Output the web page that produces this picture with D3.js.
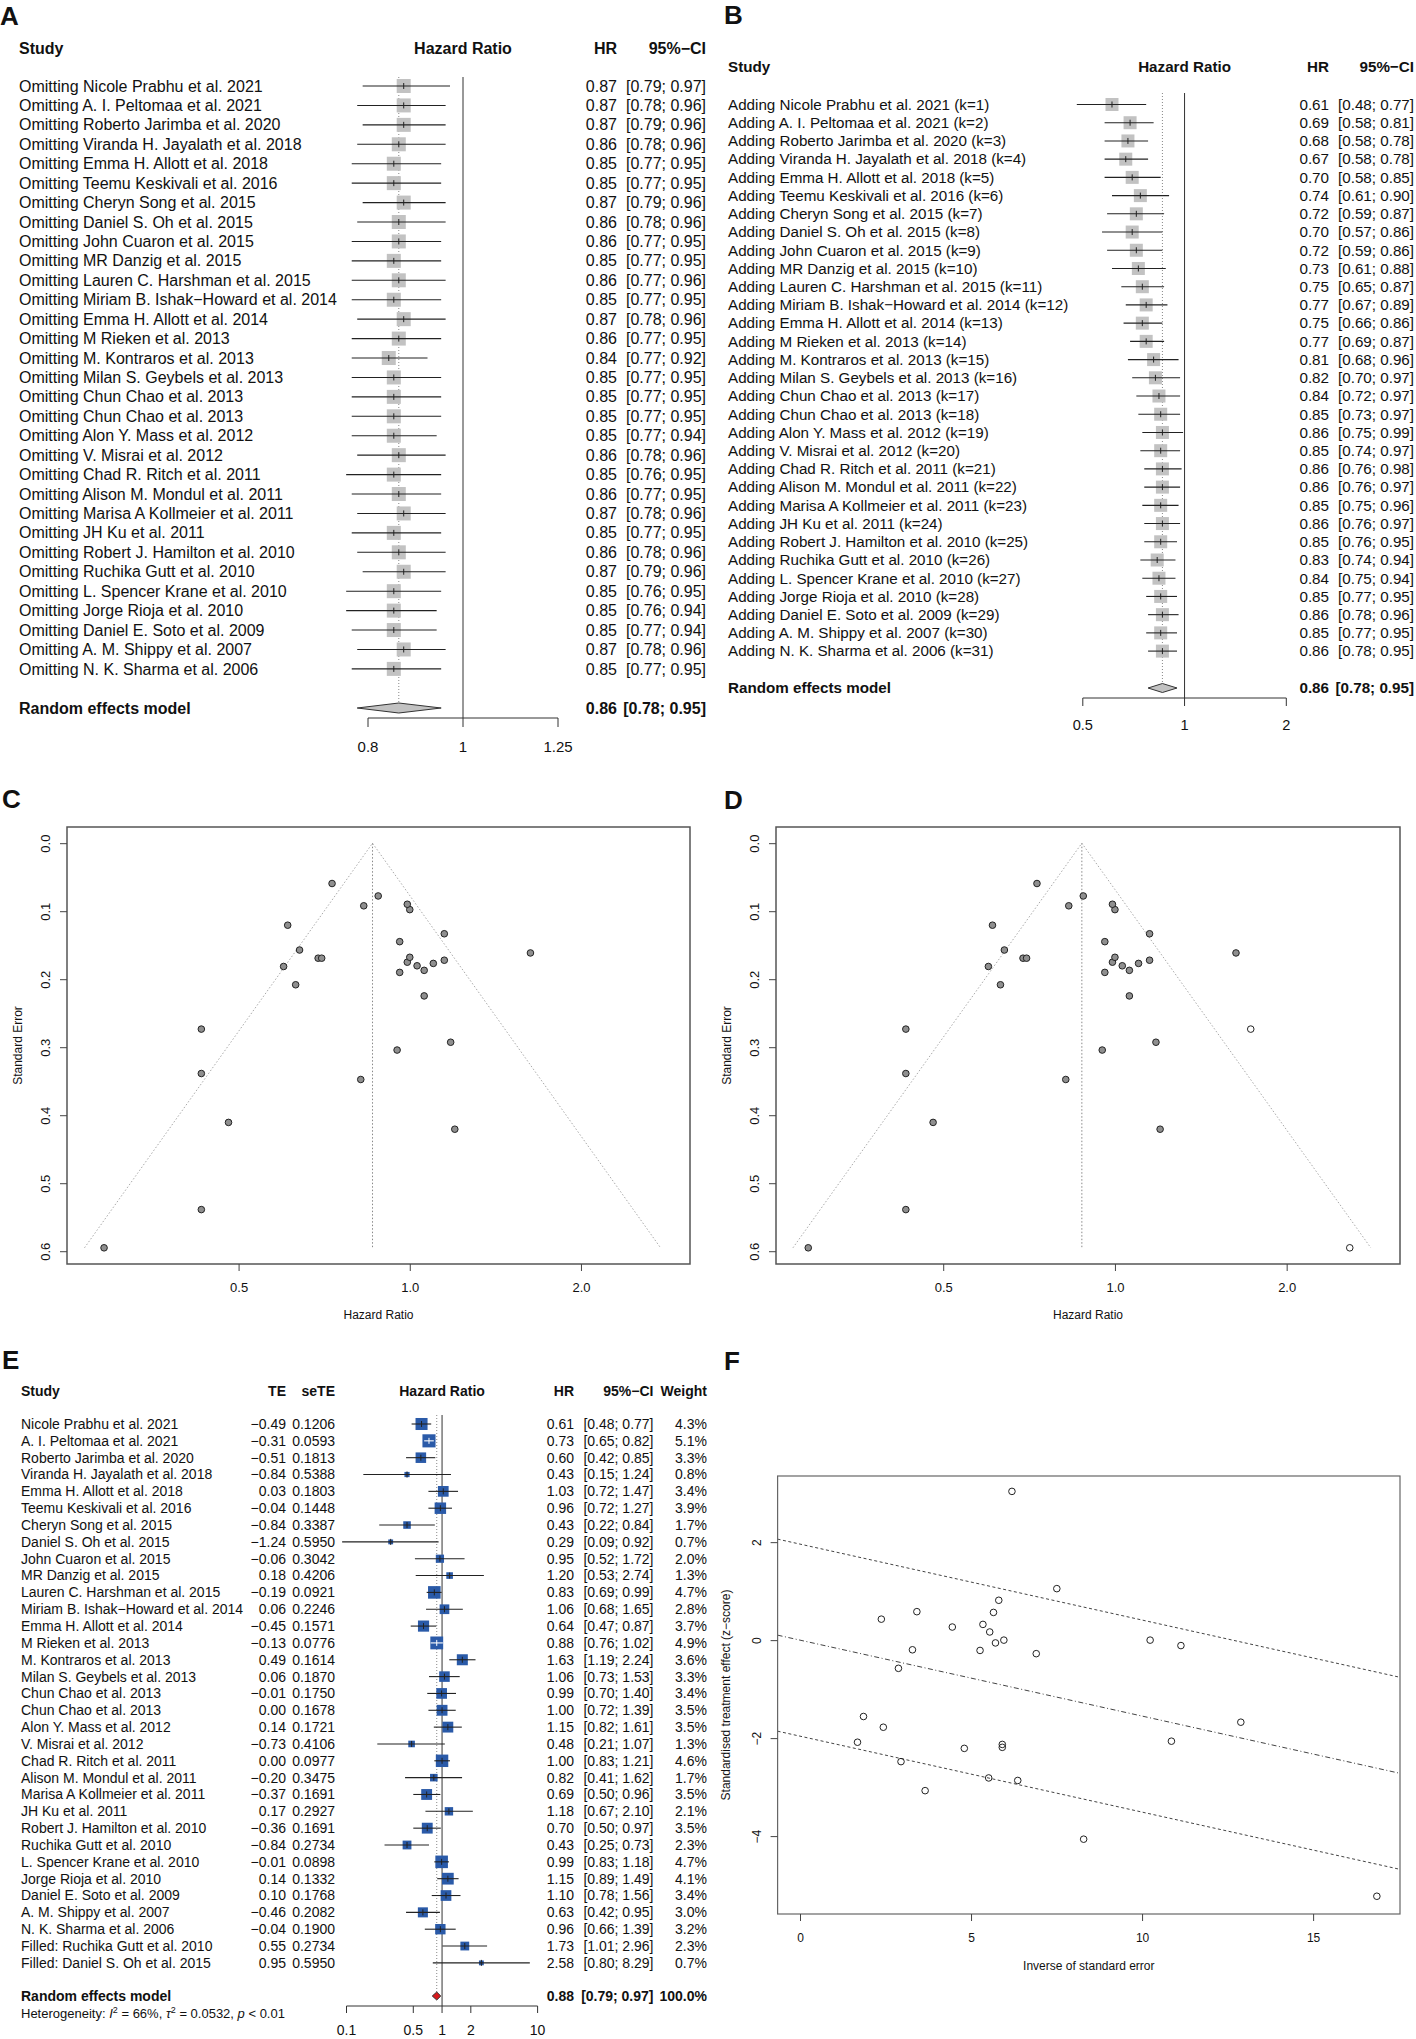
<!DOCTYPE html>
<html>
<head>
<meta charset="utf-8">
<title>Sensitivity, funnel and radial plots</title>
<script src="https://d3js.org/d3.v7.min.js"></script>
<style>
  body { margin: 0; background: #fff; }
  svg text { font-family: "Liberation Sans", Arial, Helvetica, sans-serif; fill: #111; }
</style>
</head>
<body>
<script>

// ---- data ----
var studies = [
  "Nicole Prabhu et al. 2021", "A. I. Peltomaa et al. 2021", "Roberto Jarimba et al. 2020",
  "Viranda H. Jayalath et al. 2018", "Emma H. Allott et al. 2018", "Teemu Keskivali et al. 2016",
  "Cheryn Song et al. 2015", "Daniel S. Oh et al. 2015", "John Cuaron et al. 2015",
  "MR Danzig et al. 2015", "Lauren C. Harshman et al. 2015", "Miriam B. Ishak\u2212Howard et al. 2014",
  "Emma H. Allott et al. 2014", "M Rieken et al. 2013", "M. Kontraros et al. 2013",
  "Milan S. Geybels et al. 2013", "Chun Chao et al. 2013", "Chun Chao et al. 2013",
  "Alon Y. Mass et al. 2012", "V. Misrai et al. 2012", "Chad R. Ritch et al. 2011",
  "Alison M. Mondul et al. 2011", "Marisa A Kollmeier et al. 2011", "JH Ku et al. 2011",
  "Robert J. Hamilton et al. 2010", "Ruchika Gutt et al. 2010", "L. Spencer Krane et al. 2010",
  "Jorge Rioja et al. 2010", "Daniel E. Soto et al. 2009", "A. M. Shippy et al. 2007",
  "N. K. Sharma et al. 2006"
];
var filledStudies = ["Filled: Ruchika Gutt et al. 2010", "Filled: Daniel S. Oh et al. 2015"];

// panel E table (31 studies + 2 filled)
var teValues = [-0.49, -0.31, -0.51, -0.84, 0.03, -0.04, -0.84, -1.24, -0.06, 0.18, -0.19, 0.06,
  -0.45, -0.13, 0.49, 0.06, -0.01, 0.00, 0.14, -0.73, 0.00, -0.20, -0.37, 0.17, -0.36, -0.84,
  -0.01, 0.14, 0.10, -0.46, -0.04, 0.55, 0.95];
var seValues = [0.1206, 0.0593, 0.1813, 0.5388, 0.1803, 0.1448, 0.3387, 0.5950, 0.3042, 0.4206,
  0.0921, 0.2246, 0.1571, 0.0776, 0.1614, 0.1870, 0.1750, 0.1678, 0.1721, 0.4106, 0.0977,
  0.3475, 0.1691, 0.2927, 0.1691, 0.2734, 0.0898, 0.1332, 0.1768, 0.2082, 0.1900, 0.2734, 0.5950];
var hrValues = [0.61, 0.73, 0.60, 0.43, 1.03, 0.96, 0.43, 0.29, 0.95, 1.20, 0.83, 1.06, 0.64, 0.88,
  1.63, 1.06, 0.99, 1.00, 1.15, 0.48, 1.00, 0.82, 0.69, 1.18, 0.70, 0.43, 0.99, 1.15, 1.10, 0.63,
  0.96, 1.73, 2.58];
var hrLower = [0.48, 0.65, 0.42, 0.15, 0.72, 0.72, 0.22, 0.09, 0.52, 0.53, 0.69, 0.68, 0.47, 0.76,
  1.19, 0.73, 0.70, 0.72, 0.82, 0.21, 0.83, 0.41, 0.50, 0.67, 0.50, 0.25, 0.83, 0.89, 0.78, 0.42,
  0.66, 1.01, 0.80];
var hrUpper = [0.77, 0.82, 0.85, 1.24, 1.47, 1.27, 0.84, 0.92, 1.72, 2.74, 0.99, 1.65, 0.87, 1.02,
  2.24, 1.53, 1.40, 1.39, 1.61, 1.07, 1.21, 1.62, 0.96, 2.10, 0.97, 0.73, 1.18, 1.49, 1.56, 0.95,
  1.39, 2.96, 8.29];
var weights = [4.3, 5.1, 3.3, 0.8, 3.4, 3.9, 1.7, 0.7, 2.0, 1.3, 4.7, 2.8, 3.7, 4.9, 3.6, 3.3, 3.4,
  3.5, 3.5, 1.3, 4.6, 1.7, 3.5, 2.1, 3.5, 2.3, 4.7, 4.1, 3.4, 3.0, 3.2, 2.3, 0.7];
var trimFillPooled = [0.88, 0.79, 0.97];
var heterogeneity = { i2: "66%", tau2: "0.0532", p: "< 0.01" };

// panel A, leave-one-out
var omitHR = [0.87, 0.87, 0.87, 0.86, 0.85, 0.85, 0.87, 0.86, 0.86, 0.85, 0.86, 0.85, 0.87, 0.86,
  0.84, 0.85, 0.85, 0.85, 0.85, 0.86, 0.85, 0.86, 0.87, 0.85, 0.86, 0.87, 0.85, 0.85, 0.85, 0.87, 0.85];
var omitLower = [0.79, 0.78, 0.79, 0.78, 0.77, 0.77, 0.79, 0.78, 0.77, 0.77, 0.77, 0.77, 0.78, 0.77,
  0.77, 0.77, 0.77, 0.77, 0.77, 0.78, 0.76, 0.77, 0.78, 0.77, 0.78, 0.79, 0.76, 0.76, 0.77, 0.78, 0.77];
var omitUpper = [0.97, 0.96, 0.96, 0.96, 0.95, 0.95, 0.96, 0.96, 0.95, 0.95, 0.96, 0.95, 0.96, 0.95,
  0.92, 0.95, 0.95, 0.95, 0.94, 0.96, 0.95, 0.95, 0.96, 0.95, 0.96, 0.96, 0.95, 0.94, 0.94, 0.96, 0.95];

// panel B, cumulative
var addHR = [0.61, 0.69, 0.68, 0.67, 0.70, 0.74, 0.72, 0.70, 0.72, 0.73, 0.75, 0.77, 0.75, 0.77,
  0.81, 0.82, 0.84, 0.85, 0.86, 0.85, 0.86, 0.86, 0.85, 0.86, 0.85, 0.83, 0.84, 0.85, 0.86, 0.85, 0.86];
var addLower = [0.48, 0.58, 0.58, 0.58, 0.58, 0.61, 0.59, 0.57, 0.59, 0.61, 0.65, 0.67, 0.66, 0.69,
  0.68, 0.70, 0.72, 0.73, 0.75, 0.74, 0.76, 0.76, 0.75, 0.76, 0.76, 0.74, 0.75, 0.77, 0.78, 0.77, 0.78];
var addUpper = [0.77, 0.81, 0.78, 0.78, 0.85, 0.90, 0.87, 0.86, 0.86, 0.88, 0.87, 0.89, 0.86, 0.87,
  0.96, 0.97, 0.97, 0.97, 0.99, 0.97, 0.98, 0.97, 0.96, 0.97, 0.95, 0.94, 0.94, 0.95, 0.96, 0.95, 0.95];
var randomPooled = [0.86, 0.78, 0.95];

var ticksA = [0.8, 1, 1.25];
var ticksB = [0.5, 1, 2];
var ticksE = [0.1, 0.5, 1, 2, 10];
var funnelXTicks = [0.5, 1, 2];
var funnelYTicks = [0, 0.1, 0.2, 0.3, 0.4, 0.5, 0.6];
var funnelCenterC = 0.86, funnelCenterD = 0.875;
var radialXTicks = [0, 5, 10, 15];
var radialYTicks = [-4, -2, 0, 2];
var radialSlope = -0.155, radialBand = 1.96;

// ---- helpers ----
var f1 = d3.format(".1f"), f2 = d3.format(".2f"), f4 = d3.format(".4f");
var svg = d3.select("body").append("svg").attr("width", 1416).attr("height", 2039);

function txt(g, x, y, s, o) {
  o = o || {};
  return g.append("text").attr("x", x).attr("y", y).attr("dy", "0.35em")
    .attr("text-anchor", o.anchor || "start")
    .attr("font-size", o.size || 14)
    .attr("font-weight", o.bold ? "bold" : null)
    .text(s);
}
function ci(lo, hi) { return "[" + f2(lo) + "; " + f2(hi) + "]"; }

function drawForest(o) {
  var g = svg.append("g");
  var x = d3.scaleLog().domain(o.domain).range(o.range);
  var y = function(i) { return o.y0 + i * o.dy; };
  var n = o.est.length;

  txt(g, o.labelX, o.headY, "Study", {bold: true, size: o.size});
  txt(g, x(1), o.headY, "Hazard Ratio", {bold: true, size: o.size, anchor: "middle"});
  o.columns.forEach(function(c) {
    txt(g, c.x, o.headY, c.head, {bold: true, size: o.size, anchor: "end"});
  });

  // reference line and pooled dotted line
  g.append("line").attr("x1", x(1)).attr("x2", x(1)).attr("y1", o.lineTop).attr("y2", o.axisY)
    .attr("stroke", "#333").attr("stroke-width", 1);
  g.append("line").attr("x1", x(o.pooled[0])).attr("x2", x(o.pooled[0]))
    .attr("y1", o.lineTop).attr("y2", o.pooledY - o.diamondH)
    .attr("stroke", "#888").attr("stroke-width", 1).attr("stroke-dasharray", "1,2");

  for (var i = 0; i < n; i++) {
    var cy = y(i), s = o.boxSize(i);
    var x0 = x(o.lo[i]), x1 = x(o.hi[i]), xm = x(o.est[i]);
    var inside = (x1 - x0) < s;
    g.append("rect").attr("x", xm - s / 2).attr("y", cy - s / 2).attr("width", s).attr("height", s)
      .attr("fill", o.fill);
    var lc = inside ? "#fff" : "#222";
    g.append("line").attr("x1", x0).attr("x2", x1).attr("y1", cy).attr("y2", cy)
      .attr("stroke", lc).attr("stroke-width", 1.1);
    g.append("line").attr("x1", xm).attr("x2", xm).attr("y1", cy - 3).attr("y2", cy + 3)
      .attr("stroke", lc).attr("stroke-width", 1);
    txt(g, o.labelX, cy, o.labels[i], {size: o.size});
    o.columns.forEach(function(c) {
      txt(g, c.x, cy, c.vals[i], {size: o.size, anchor: "end"});
    });
  }

  // pooled row
  txt(g, o.labelX, o.pooledY, "Random effects model", {bold: true, size: o.size});
  o.columns.forEach(function(c) {
    if (c.pooled) txt(g, c.x, o.pooledY, c.pooled, {bold: true, size: o.size, anchor: "end"});
  });
  var p = o.pooled, h = o.diamondH;
  g.append("path")
    .attr("d", "M" + x(p[1]) + "," + o.pooledY + "L" + x(p[0]) + "," + (o.pooledY - h) +
      "L" + x(p[2]) + "," + o.pooledY + "L" + x(p[0]) + "," + (o.pooledY + h) + "Z")
    .attr("fill", o.diamondFill).attr("stroke", "#333").attr("stroke-width", 1);

  // axis
  var t = o.ticks;
  g.append("line").attr("x1", x(t[0])).attr("x2", x(t[t.length - 1]))
    .attr("y1", o.axisY).attr("y2", o.axisY).attr("stroke", "#333");
  t.forEach(function(v) {
    g.append("line").attr("x1", x(v)).attr("x2", x(v)).attr("y1", o.axisY).attr("y2", o.axisY + o.tickLen)
      .attr("stroke", "#333");
    txt(g, x(v), o.tickLabelY, String(v), {size: o.tickSize, anchor: "middle"});
  });
  return g;
}

function styleAxis(a, size) {
  a.select(".domain").remove();
  a.selectAll(".tick line").attr("stroke", "#444");
  a.selectAll("text").attr("font-size", size).attr("font-family", null).attr("fill", "#111");
}

function drawFunnel(o) {
  var g = svg.append("g");
  var x = d3.scaleLog().domain(o.xDomain).range([o.left, o.right]);
  var y = d3.scaleLinear().domain([-0.0238, 0.6188]).range([o.top, o.bottom]);
  var seMax = d3.max(o.se);
  var c = o.center;

  g.append("line").attr("x1", x(c)).attr("x2", x(c)).attr("y1", y(0)).attr("y2", y(seMax))
    .attr("stroke", "#888").attr("stroke-dasharray", "1.5,2");
  g.append("path")
    .attr("d", d3.line()([[x(c * Math.exp(-1.96 * seMax)), y(seMax)], [x(c), y(0)],
      [x(c * Math.exp(1.96 * seMax)), y(seMax)]]))
    .attr("fill", "none").attr("stroke", "#aaa").attr("stroke-dasharray", "1.5,2");

  g.selectAll("circle").data(o.hr.map(function(d, i) { return {hr: d, se: o.se[i], imp: i >= o.nObs}; }))
    .join("circle")
    .attr("cx", function(d) { return x(d.hr); })
    .attr("cy", function(d) { return y(d.se); })
    .attr("r", 3.3)
    .attr("fill", function(d) { return d.imp ? "#fff" : "#8f8f8f"; })
    .attr("stroke", "#222").attr("stroke-width", 1);

  g.append("rect").attr("x", o.left).attr("y", o.top).attr("width", o.right - o.left)
    .attr("height", o.bottom - o.top).attr("fill", "none").attr("stroke", "#555").attr("stroke-width", 1.5);

  var ax = g.append("g").attr("transform", "translate(0," + o.bottom + ")")
    .call(d3.axisBottom(x).tickValues(funnelXTicks).tickFormat(f1).tickSize(7));
  styleAxis(ax, 13);
  ax.selectAll("text").attr("y", 23).attr("dy", "0.35em");

  var ay = g.append("g").attr("transform", "translate(" + o.left + ",0)")
    .call(d3.axisLeft(y).tickValues(funnelYTicks).tickFormat(f1).tickSize(7));
  styleAxis(ay, 13);
  ay.selectAll("text").attr("x", null).attr("dy", "0.35em").attr("text-anchor", "middle")
    .attr("transform", "translate(-22,0) rotate(-90)");

  txt(g, (o.left + o.right) / 2, o.bottom + 51, "Hazard Ratio", {size: 12, anchor: "middle"});
  txt(g, 0, 0, "Standard Error", {size: 12, anchor: "middle"})
    .attr("transform", "translate(" + o.yTitleX + "," + (o.top + o.bottom) / 2 + ") rotate(-90)");
}

// ---- panel letters ----
[["A", 0, 25], ["B", 724, 24], ["C", 2, 808], ["D", 724, 809], ["E", 2, 1369], ["F", 724, 1370]]
  .forEach(function(l) {
    svg.append("text").attr("x", l[1]).attr("y", l[2]).attr("font-size", 26)
      .attr("font-weight", "bold").text(l[0]);
  });

// ---- A: leave-one-out ----
drawForest({
  domain: [0.8, 1.25], range: [368, 558], ticks: ticksA,
  y0: 86, dy: 19.43, headY: 48, lineTop: 77, axisY: 718, tickLen: 9, tickLabelY: 747,
  pooledY: 708, labelX: 19, size: 16, tickSize: 15,
  labels: studies.map(function(s) { return "Omitting " + s; }),
  est: omitHR, lo: omitLower, hi: omitUpper,
  boxSize: function() { return 14; }, fill: "#c2c2c2",
  pooled: randomPooled, diamondH: 5, diamondFill: "#c2c2c2",
  columns: [
    {x: 617, head: "HR", vals: omitHR.map(f2), pooled: f2(randomPooled[0])},
    {x: 706, head: "95%\u2212CI", vals: omitHR.map(function(d, i) { return ci(omitLower[i], omitUpper[i]); }),
      pooled: ci(randomPooled[1], randomPooled[2])}
  ]
});

// ---- B: cumulative ----
drawForest({
  domain: [0.5, 2], range: [1082.8, 1286.3], ticks: ticksB,
  y0: 104.5, dy: 18.22, headY: 66.7, lineTop: 93, axisY: 698, tickLen: 8, tickLabelY: 725,
  pooledY: 688, labelX: 728, size: 15.2, tickSize: 14.6,
  labels: studies.map(function(s, i) { return "Adding " + s + " (k=" + (i + 1) + ")"; }),
  est: addHR, lo: addLower, hi: addUpper,
  boxSize: function() { return 13; }, fill: "#c2c2c2",
  pooled: randomPooled, diamondH: 4.5, diamondFill: "#c2c2c2",
  columns: [
    {x: 1329, head: "HR", vals: addHR.map(f2), pooled: f2(randomPooled[0])},
    {x: 1414, head: "95%\u2212CI", vals: addHR.map(function(d, i) { return ci(addLower[i], addUpper[i]); }),
      pooled: ci(randomPooled[1], randomPooled[2])}
  ]
});

// ---- C and D: funnel plots ----
var nObs = studies.length;
drawFunnel({
  left: 67, right: 690, top: 827, bottom: 1264, xDomain: [0.2496, 3.11],
  center: funnelCenterC, hr: hrValues.slice(0, nObs), se: seValues.slice(0, nObs), nObs: nObs,
  yTitleX: 18
});
drawFunnel({
  left: 776, right: 1400, top: 827, bottom: 1264, xDomain: [0.2546, 3.16],
  center: funnelCenterD, hr: hrValues, se: seValues, nObs: nObs,
  yTitleX: 727
});

// ---- E: trim-and-fill forest ----
var allLabels = studies.concat(filledStudies);
var gE = drawForest({
  domain: [0.1, 10], range: [346.5, 537.6], ticks: ticksE,
  y0: 1424, dy: 16.84, headY: 1391, lineTop: 1415, axisY: 2006, tickLen: 7, tickLabelY: 2030,
  pooledY: 1996, labelX: 21, size: 14, tickSize: 14,
  labels: allLabels, est: hrValues, lo: hrLower, hi: hrUpper,
  boxSize: function(i) { return 5.8 * Math.sqrt(weights[i]); }, fill: "#2a5aa8",
  pooled: trimFillPooled, diamondH: 4, diamondFill: "#d7191c",
  columns: [
    {x: 286, head: "TE", vals: teValues.map(f2)},
    {x: 335, head: "seTE", vals: seValues.map(f4)},
    {x: 574, head: "HR", vals: hrValues.map(f2), pooled: f2(trimFillPooled[0])},
    {x: 653.5, head: "95%\u2212CI", vals: hrValues.map(function(d, i) { return ci(hrLower[i], hrUpper[i]); }),
      pooled: ci(trimFillPooled[1], trimFillPooled[2])},
    {x: 707, head: "Weight", vals: weights.map(function(w) { return f1(w) + "%"; }), pooled: "100.0%"}
  ]
});
var het = gE.append("text").attr("x", 21).attr("y", 2013).attr("dy", "0.35em").attr("font-size", 13);
het.append("tspan").text("Heterogeneity: ");
het.append("tspan").attr("font-style", "italic").text("I");
het.append("tspan").attr("baseline-shift", "super").attr("font-size", 9).text("2");
het.append("tspan").text(" = " + heterogeneity.i2 + ", ");
het.append("tspan").attr("font-style", "italic").text("\u03c4");
het.append("tspan").attr("baseline-shift", "super").attr("font-size", 9).text("2");
het.append("tspan").text(" = " + heterogeneity.tau2 + ", ");
het.append("tspan").attr("font-style", "italic").text("p");
het.append("tspan").text(" " + heterogeneity.p);

// ---- F: radial plot ----
(function() {
  var g = svg.append("g");
  var L = 777.6, R = 1400, T = 1476, B = 1914;
  var x = d3.scaleLinear().domain([-0.655, 17.54]).range([L, R]);
  var y = d3.scaleLinear().domain([-5.59, 3.35]).range([B, T]);

  [[radialBand, "3,2.5"], [0, "5,2.5,1,2.5"], [-radialBand, "3,2.5"]].forEach(function(l) {
    var d = x.domain();
    g.append("line")
      .attr("x1", x(d[0])).attr("y1", y(radialSlope * d[0] + l[0]))
      .attr("x2", x(d[1])).attr("y2", y(radialSlope * d[1] + l[0]))
      .attr("stroke", "#444").attr("stroke-width", 1).attr("stroke-dasharray", l[1]);
  });

  var pts = seValues.slice(0, nObs).map(function(s, i) { return [1 / s, teValues[i] / s]; });
  g.selectAll("circle").data(pts).join("circle")
    .attr("cx", function(d) { return x(d[0]); })
    .attr("cy", function(d) { return y(d[1]); })
    .attr("r", 3.3).attr("fill", "none").attr("stroke", "#222").attr("stroke-width", 1);

  g.append("rect").attr("x", L).attr("y", T).attr("width", R - L).attr("height", B - T)
    .attr("fill", "none").attr("stroke", "#666").attr("stroke-width", 1.2);

  var ax = g.append("g").attr("transform", "translate(0," + B + ")")
    .call(d3.axisBottom(x).tickValues(radialXTicks).tickSize(7));
  styleAxis(ax, 12);
  ax.selectAll("text").attr("y", 24).attr("dy", "0.35em");

  var ay = g.append("g").attr("transform", "translate(" + L + ",0)")
    .call(d3.axisLeft(y).tickValues(radialYTicks).tickSize(7));
  styleAxis(ay, 12);
  ay.selectAll("text").attr("x", null).attr("dy", "0.35em").attr("text-anchor", "middle")
    .attr("transform", "translate(-21,0) rotate(-90)");

  txt(g, (L + R) / 2, B + 52, "Inverse of standard error", {size: 12, anchor: "middle"});
  txt(g, 0, 0, "Standardised treatment effect (z\u2212score)", {size: 12, anchor: "middle"})
    .attr("transform", "translate(726," + (T + B) / 2 + ") rotate(-90)");
})();

</script>
</body>
</html>
